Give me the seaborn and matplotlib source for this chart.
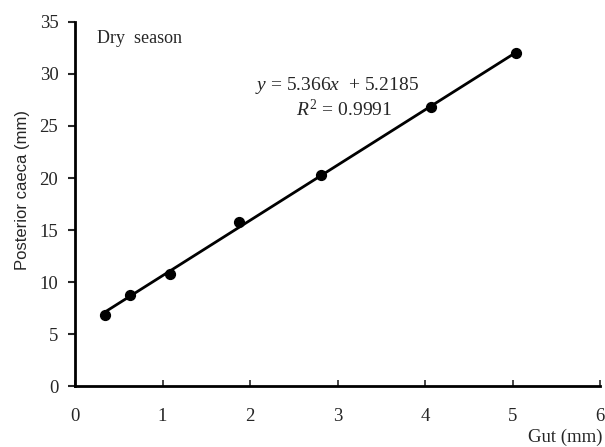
import matplotlib
matplotlib.use("Agg")
import matplotlib.pyplot as plt
import seaborn as sns
import pandas as pd
import numpy as np

gut_mm = [0.34, 0.63, 1.09, 1.87, 2.81, 4.07, 5.04]
caeca_mm = [6.85, 8.8, 10.8, 15.8, 20.3, 26.8, 32.0]
x_ticks = [0, 1, 2, 3, 4, 5, 6]
y_ticks = [0, 5, 10, 15, 20, 25, 30, 35]

sns.set_style("ticks")
plt.rcParams['font.family'] = ['Liberation Serif', 'DejaVu Serif']
plt.rcParams['mathtext.fontset'] = 'custom'
plt.rcParams['mathtext.it'] = 'Liberation Serif:italic'
plt.rcParams['mathtext.rm'] = 'Liberation Serif'

df = pd.DataFrame({"Gut": gut_mm, "Caeca": caeca_mm})

fig = plt.figure(figsize=(6.05, 4.47), dpi=100)
ax = fig.add_axes([0.124, 0.136, 0.868, 0.815])

sns.regplot(data=df, x="Gut", y="Caeca", ax=ax, ci=None, truncate=True,
            color="black",
            scatter_kws=dict(s=50, color="black", edgecolor="black", alpha=1, zorder=3),
            line_kws=dict(lw=2, color="black"))

ax.set_xlim(0, 6)
ax.set_ylim(0, 35)
ax.set_xticks(x_ticks)
ax.set_yticks(y_ticks)
ax.set_xticklabels([str(v) for v in x_ticks], fontsize=13.5)
ax.set_yticklabels([str(v) for v in y_ticks], fontsize=13.5)
ax.tick_params(axis='x', direction='in', length=4, width=1.2, pad=16)
ax.tick_params(axis='y', direction='out', length=5, width=1.5, pad=7)
sns.despine(ax=ax)
for s in ['left', 'bottom']:
    ax.spines[s].set_linewidth(2)
    ax.spines[s].set_color('black')

ax.set_xlabel("")
ax.set_ylabel("Posterior caeca (mm)", fontsize=12, family=['Liberation Sans', 'DejaVu Sans'])
ax.yaxis.set_label_coords(-0.085, 0.538)
fig.text(0.996, 0.002, "Gut (mm)", ha="right", va="bottom", fontsize=13.5)

ax.text(0.25, 33.4, "Dry  season", fontsize=13, ha="left", va="center")
ax.text(2.99, 28.9, r"$y$ = 5.366$x$  + 5.2185", fontsize=14, ha="center", va="center")
ax.text(3.07, 26.6, r"$R$$^{\,2}$ = 0.9991", fontsize=14, ha="center", va="center")

fig.savefig("out.png", dpi=100)
